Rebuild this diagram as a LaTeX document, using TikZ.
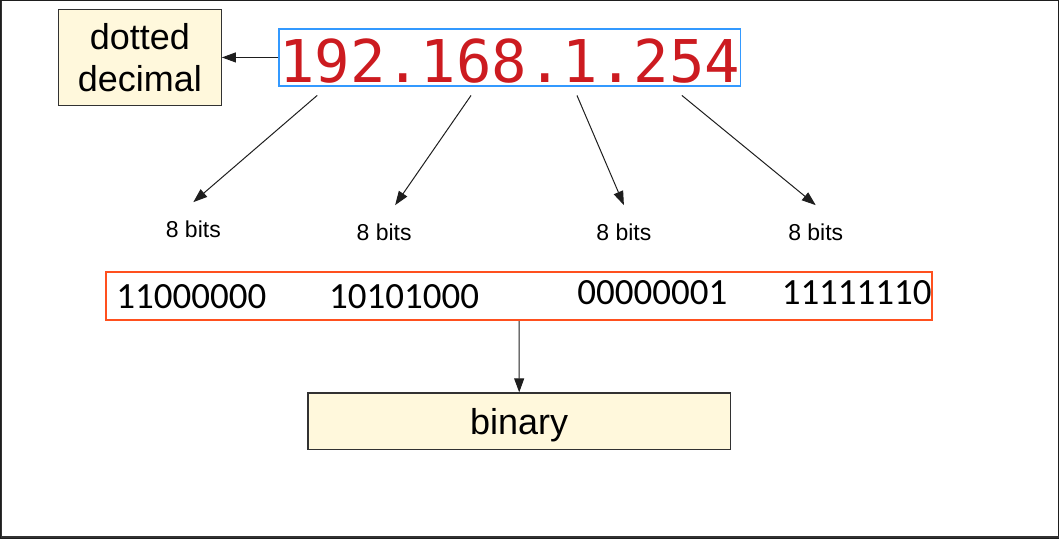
\documentclass[tikz,border=0pt]{standalone}
\usepackage{fontspec}
\setmainfont{Liberation Sans}
\newfontfamily\ipfont{DejaVu Sans Mono}
\newfontfamily\binfont{Carlito}
\usepackage{tikz}
\usetikzlibrary{arrows.meta,positioning}
\definecolor{ipred}{RGB}{204,27,32}
\definecolor{ipblue}{RGB}{51,153,255}
\definecolor{binorange}{RGB}{255,80,30}
\definecolor{cream}{RGB}{255,248,220}
\definecolor{boxgray}{RGB}{50,50,50}
\definecolor{arrowgray}{RGB}{30,30,30}

\begin{document}
\begin{tikzpicture}[->,>={Triangle[length=14pt,width=10pt]},x=1pt,y=-1pt,
		every path/.style={draw=arrowgray,line width=1pt},
		box/.style={draw=boxgray,line width=1.2pt,fill=cream,inner sep=0pt,align=center},
		bitlabel/.style={font=\fontsize{23}{27}\selectfont,inner sep=0pt,anchor=base},
		bincode/.style={font=\binfont\fontsize{37}{44}\selectfont,inner sep=0pt,anchor=base}]
			\useasboundingbox (0,0) rectangle (1059,538);
			\draw[-,boxgray,line width=1.5pt] (1,0) -- (1,537) -- (1059,537);

			\node[box,minimum width=163pt,minimum height=96pt,font=\fontsize{36}{42.4}\selectfont] (dd) at (139.5,57) {dotted\\decimal};
			\node[draw=ipblue,line width=1.5pt,inner sep=0pt,minimum width=461pt,minimum height=57pt,text height=49.5pt,text depth=0pt,text=ipred,font=\ipfont\fontsize{59}{70}\selectfont] (ip) at (509.7,57) {192.168.1.254};

			\coordinate (s1) at (317,95);
			\coordinate (s2) at (471,95);
			\coordinate (s3) at (577,95);
			\coordinate (s4) at (682,95);

			\node[bitlabel] (l1) at (193,237) {8 bits};
			\node[bitlabel] (l2) at (384,240) {8 bits};
			\node[bitlabel] (l3) at (624,240) {8 bits};
			\node[bitlabel] (l4) at (816,240) {8 bits};

			\node[draw=binorange,line width=2pt,inner sep=0pt,minimum width=826pt,minimum height=48pt] (bin) at (519,296) {};
			\node[bincode] (n1) at (191,308) {11000000};
			\node[bincode] (n2) at (404,308) {10101000};
			\node[bincode] (n3) at (652.5,304) {00000001};
			\node[bincode] (n4) at (857,304) {11111110};

			\node[box,minimum width=423pt,minimum height=57pt,text height=27pt,text depth=0pt,font=\fontsize{36}{43}\selectfont] (binary) at (519.2,421.3) {binary};

			\draw (ip.west) -- (dd.east);
			\draw (s1) -- ([yshift=18pt]l1.north);
			\draw (s2) -- ([xshift=11pt,yshift=18pt]l2.north);
			\draw (s3) -- ([yshift=18pt]l3.north);
			\draw (s4) -- ([yshift=18pt]l4.north);
			\draw (bin.south) -- (binary.north);
\end{tikzpicture}
\end{document}
